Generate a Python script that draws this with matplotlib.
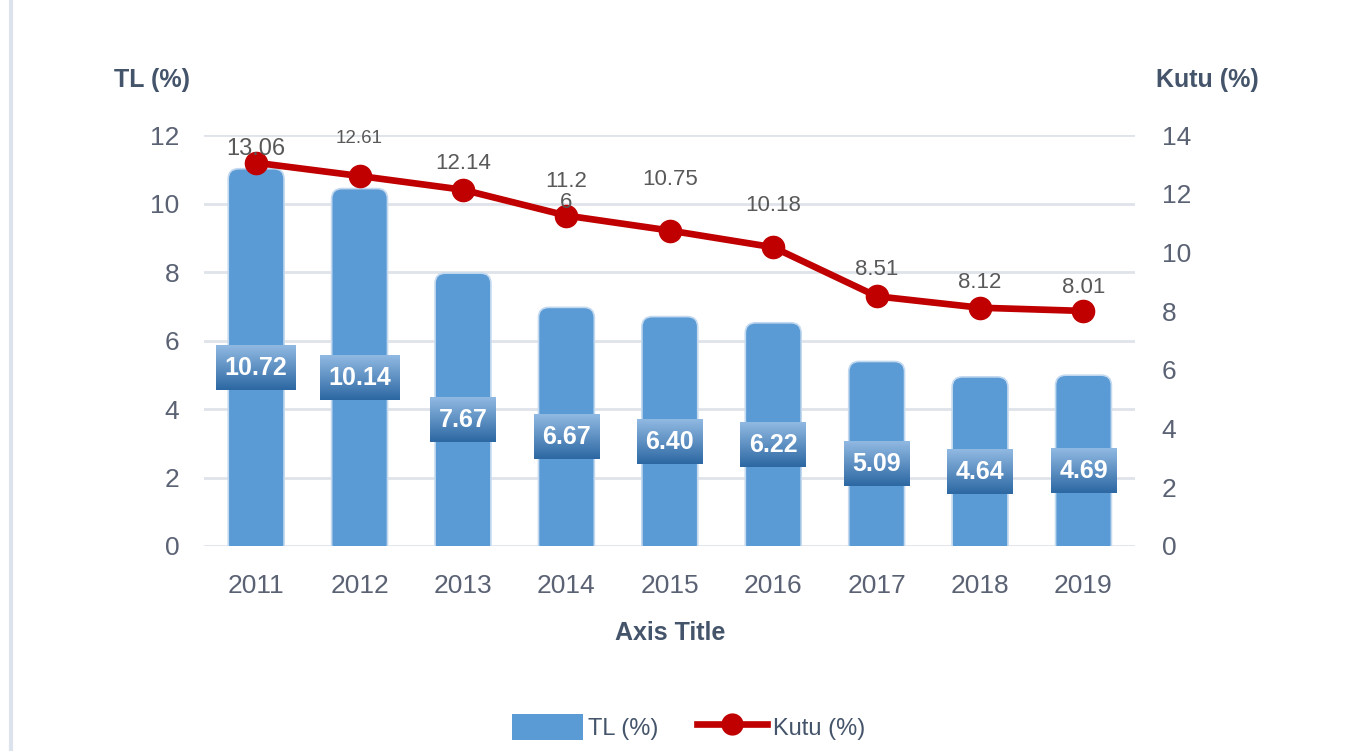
import numpy as np
import matplotlib.pyplot as plt
from matplotlib.patches import FancyBboxPatch, Patch
from matplotlib.lines import Line2D
from matplotlib.colors import LinearSegmentedColormap

plt.rcParams['font.family'] = ['Liberation Sans', 'DejaVu Sans']

years = ['2011', '2012', '2013', '2014', '2015', '2016', '2017', '2018', '2019']
tl = [10.72, 10.14, 7.67, 6.67, 6.40, 6.22, 5.09, 4.64, 4.69]
kutu = [13.06, 12.61, 12.14, 11.26, 10.75, 10.18, 8.51, 8.12, 8.01]
kutu_labels = ['13.06', '12.61', '12.14', '11.2\n6', '10.75', '10.18', '8.51', '8.12', '8.01']

# label placement (points above the marker) and sizes, as in the original
lbl_off = [10, 27, 19, 17, 37, 30, 19, 18, 17]
lbl_size = [17, 13.5, 16, 16, 16, 16, 16, 16, 16]

bar_col = '#5b9bd5'
line_col = '#c00000'
tick_col = '#5a6274'
title_col = '#44546a'

fig = plt.figure(figsize=(13.45, 7.51), dpi=100)
ax = fig.add_axes([0.152, 0.273, 0.692, 0.547])
ax2 = ax.twinx()

x = np.arange(len(years))
w = 0.54

# bars (cylinder-ish look: rounded ends)
bars = ax.bar(x, tl, width=w, color=bar_col, alpha=0)
for b in bars:
    x0 = b.get_x()
    h = b.get_height()
    p = FancyBboxPatch((x0, -0.27), w, h + 0.57,
                       boxstyle="round,pad=0,rounding_size=0.1",
                       mutation_aspect=3.0, facecolor=bar_col,
                       edgecolor='#c3d9ef', linewidth=1.2, zorder=2)
    ax.add_patch(p)

# gradient label boxes
grad = np.linspace(0, 1, 50).reshape(-1, 1)
cm = LinearSegmentedColormap.from_list('lbl', ['#2d68a3', '#90b9e2'])
bh = 1.29
for xi, v in zip(x, tl):
    s = f'{v:.2f}'
    bw = (14 * len(s) + 10) / 103.9
    cy = v / 2 - 0.15
    ax.imshow(grad, cmap=cm, origin='lower', aspect='auto',
              extent=[xi - bw / 2, xi + bw / 2, cy - bh / 2, cy + bh / 2], zorder=3)
    ax.text(xi, cy, s, ha='center', va='center', color='white',
            fontsize=18, fontweight='bold', zorder=4)

ax.set_xlim(-0.5, len(years) - 0.5)
ax.set_ylim(0, 12)
ax.set_yticks(range(0, 13, 2))
ax2.set_ylim(0, 14)
ax2.set_yticks(range(0, 15, 2))
ax.set_xticks(x)
ax.set_xticklabels(years)
ax.grid(axis='y', color='#dfe3ea', linewidth=2, zorder=0)
ax.set_axisbelow(True)

for a in (ax, ax2):
    for s in a.spines.values():
        s.set_visible(False)
    a.tick_params(length=0, colors=tick_col, labelsize=19)
ax.tick_params(axis='y', pad=18)
ax.tick_params(axis='x', pad=20)
ax2.tick_params(axis='y', pad=19)

ax2.plot(x, kutu, color=line_col, linewidth=4.8, marker='o', markersize=16, zorder=5)
for xi, v, lab, off, fs in zip(x, kutu, kutu_labels, lbl_off, lbl_size):
    ax2.annotate(lab, (xi, v), xytext=(0, off), textcoords='offset points',
                 ha='center', va='center', fontsize=fs, color='#595959',
                 linespacing=1.05, zorder=6)

fig.text(0.113, 0.893, 'TL (%)', fontsize=18, fontweight='bold', color=title_col, ha='center', va='center')
fig.text(0.898, 0.893, 'Kutu (%)', fontsize=18, fontweight='bold', color=title_col, ha='center', va='center')
fig.text(0.498, 0.157, 'Axis Title', fontsize=18, fontweight='bold', color=title_col, ha='center', va='center')

# left frame edge
fig.add_artist(Line2D([0.0085, 0.0085], [0, 1], transform=fig.transFigure, color='#dde3ec', linewidth=3))

handles = [Patch(facecolor=bar_col, label='TL (%)'),
           Line2D([0], [0], color=line_col, linewidth=4.8, marker='o', markersize=15, label='Kutu (%)')]
fig.legend(handles=handles, loc='center', bbox_to_anchor=(0.512, 0.032), ncol=2, frameon=False,
           fontsize=17, handlelength=3.0, handleheight=1.3, columnspacing=1.6, handletextpad=0.25,
           labelcolor=title_col)

fig.savefig('out.png', dpi=100)
